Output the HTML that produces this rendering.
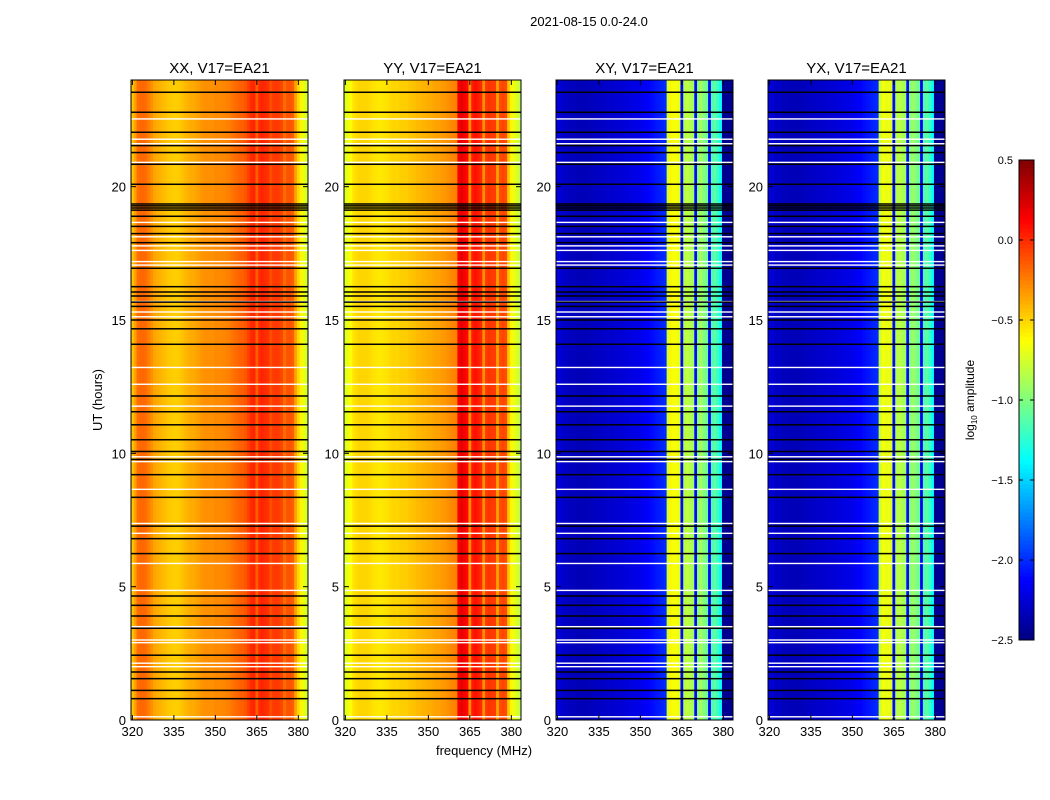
<!DOCTYPE html>
<html><head><meta charset="utf-8"><style>
html,body{margin:0;padding:0;background:#fff;}
svg{display:block;font-family:"Liberation Sans","DejaVu Sans",sans-serif;}
</style></head><body>
<svg id="fig" width="1050" height="800" viewBox="0 0 1050 800" xmlns="http://www.w3.org/2000/svg">
<rect width="1050" height="800" fill="#fff"/>
<text x="589" y="26" font-size="13" text-anchor="middle">2021-08-15 0.0-24.0</text>
<text x="484" y="755" font-size="13" text-anchor="middle">frequency (MHz)</text>
<text x="102" y="400" font-size="13" text-anchor="middle" transform="rotate(-90 102 400)">UT (hours)</text>
<g id="panels"></g>
<g id="cbar"></g>
</svg>
<script>
// ---- data ----
const freqs = []; for (let f = 320; f <= 383; f++) freqs.push(f); // channel centres (MHz)
const panelNames = ["XX, V17=EA21","YY, V17=EA21","XY, V17=EA21","YX, V17=EA21"];
const profXX = [-0.45,-0.35,-0.2,-0.18,-0.18,-0.2,-0.25,-0.3,-0.36,-0.38,-0.4,-0.42,-0.44,-0.46,-0.47,-0.48,-0.48,-0.47,-0.45,-0.42,-0.4,-0.38,-0.38,-0.36,-0.34,-0.32,-0.3,-0.3,-0.3,-0.3,-0.28,-0.28,-0.28,-0.27,-0.26,-0.25,-0.22,-0.2,-0.18,-0.16,-0.15,-0.12,-0.06,0.0,0.02,-0.15,0.0,0.02,0.0,-0.02,-0.1,-0.05,-0.04,-0.05,-0.08,-0.2,-0.12,-0.12,-0.15,-0.35,-0.5,-0.6,-0.68,-0.75];
const profYY = [-0.72,-0.68,-0.62,-0.55,-0.52,-0.5,-0.5,-0.5,-0.5,-0.52,-0.54,-0.55,-0.56,-0.56,-0.55,-0.54,-0.52,-0.5,-0.5,-0.5,-0.48,-0.48,-0.48,-0.46,-0.45,-0.44,-0.42,-0.42,-0.4,-0.4,-0.38,-0.38,-0.36,-0.35,-0.35,-0.33,-0.32,-0.3,-0.28,-0.27,-0.25,0.15,0.2,0.15,0.1,-0.3,0.05,0.08,0.05,0.0,-0.3,-0.05,-0.02,-0.05,-0.05,-0.35,-0.1,-0.08,-0.1,-0.45,-0.6,-0.68,-0.74,-0.8];
const profXY = [-2.2,-2.25,-2.28,-2.3,-2.3,-2.32,-2.32,-2.33,-2.33,-2.33,-2.33,-2.33,-2.32,-2.32,-2.3,-2.3,-2.3,-2.28,-2.28,-2.27,-2.27,-2.26,-2.25,-2.25,-2.24,-2.23,-2.22,-2.21,-2.2,-2.2,-2.18,-2.17,-2.15,-2.13,-2.1,-2.08,-2.06,-2.04,-2.02,-2.0,-0.75,-0.6,-0.65,-0.65,-0.7,-2.1,-0.85,-0.8,-0.85,-0.9,-2.1,-0.95,-0.9,-1.0,-1.05,-2.15,-1.15,-1.1,-1.2,-1.35,-2.45,-2.45,-2.45,-2.45];
const profYX = [-2.2,-2.25,-2.28,-2.3,-2.3,-2.32,-2.32,-2.33,-2.33,-2.33,-2.33,-2.33,-2.32,-2.32,-2.3,-2.3,-2.3,-2.28,-2.28,-2.27,-2.27,-2.26,-2.25,-2.25,-2.24,-2.23,-2.22,-2.21,-2.2,-2.2,-2.18,-2.17,-2.15,-2.13,-2.1,-2.08,-2.06,-2.04,-2.02,-2.0,-0.8,-0.65,-0.68,-0.68,-0.72,-2.1,-0.85,-0.82,-0.86,-0.9,-2.1,-0.97,-0.92,-1.0,-1.05,-2.15,-1.15,-1.1,-1.2,-1.35,-2.45,-2.45,-2.45,-2.45];
const blackFlags = [23.54,22.79,22.04,21.54,21.28,20.84,20.09,19.35,19.28,19.2,19.12,18.89,18.51,18.24,17.9,16.94,16.25,16.05,15.9,15.67,15.51,15.0,14.67,14.09,12.15,11.56,11.07,10.51,10.07,9.77,9.2,8.35,7.27,6.8,6.24,4.65,4.3,3.9,3.44,2.43,1.8,1.55,1.11,0.8];
const whiteFlags = [22.54,21.78,21.61,20.91,18.66,18.12,17.78,17.61,17.19,17.06,15.69,15.3,15.12,13.22,12.59,11.77,9.87,9.69,8.65,7.37,7.0,5.87,4.86,3.5,3.0,2.9,2.13,2.0,0.12];
const xTicks = [320,335,350,365,380];
const yTicks = [0,5,10,15,20];
const cbarTicks = [-2.5,-2.0,-1.5,-1.0,-0.5,0.0,0.5];
// ---- layout ----
const NS = "http://www.w3.org/2000/svg";
const panelLefts = [131,344,556,768];
const PW = 177, PT = 80, PB = 720;
const fMin = 319.5, fMax = 383.5, tMax = 24, vMin = -2.5, vMax = 0.5;
function el(tag, attrs, parent){const e=document.createElementNS(NS,tag);for(const k in attrs)e.setAttribute(k,attrs[k]);parent.appendChild(e);return e;}
function jet(v){let t=(v-vMin)/(vMax-vMin);t=Math.max(0,Math.min(1,t));
  const r=Math.max(0,Math.min(1,1.5-Math.abs(4*t-3))),g=Math.max(0,Math.min(1,1.5-Math.abs(4*t-2))),b=Math.max(0,Math.min(1,1.5-Math.abs(4*t-1)));
  return `rgb(${Math.round(r*255)},${Math.round(g*255)},${Math.round(b*255)})`;}
function fmt(v){return (v<0?"\u2212":"")+Math.abs(v).toFixed(1);}
const profiles=[profXX,profYY,profXY,profYX];
const gP=document.getElementById("panels");
profiles.forEach((prof,p)=>{
  const L=panelLefts[p];
  const xs=f=>L+(f-fMin)/(fMax-fMin)*PW;
  const ys=h=>PB-h/tMax*(PB-PT);
  const g=el("g",{},gP);
  
  
  freqs.forEach((f,i)=>{
    const c=el("rect",{x:xs(f-0.5),y:PT,width:xs(f+0.5)-xs(f-0.5)+0.4,height:PB-PT,fill:jet(prof[i])},g);
    
    
  });
  whiteFlags.forEach(h=>{const r=el("rect",{x:L,y:ys(h)-0.7,width:PW,height:1.4,fill:"#fff"},g);
    
    });
  blackFlags.forEach(h=>{const r=el("rect",{x:L,y:ys(h)-0.75,width:PW,height:1.5,fill:"#000"},g);
    
    });
  const fr=el("rect",{x:L,y:PT,width:PW,height:PB-PT,fill:"none",stroke:"#000","stroke-width":1},g);
  
  
  const t=el("text",{x:L+PW/2,y:73,"font-size":15,"text-anchor":"middle"},g);t.textContent=panelNames[p];
  
  
  xTicks.forEach(v=>{const x=xs(v);
    el("line",{x1:x,x2:x,y1:PB,y2:PB-5,stroke:"#000"},g);el("line",{x1:x,x2:x,y1:PT,y2:PT+5,stroke:"#000"},g);
    const tx=el("text",{x:x,y:PB+16,"font-size":13,"text-anchor":"middle"},g);tx.textContent=v;
    
    });
  yTicks.forEach(v=>{const y=ys(v);
    el("line",{x1:L,x2:L+5,y1:y,y2:y,stroke:"#000"},g);el("line",{x1:L+PW,x2:L+PW-5,y1:y,y2:y,stroke:"#000"},g);
    const ty=el("text",{x:L-5,y:y+5,"font-size":13,"text-anchor":"end"},g);ty.textContent=v;
    
    });
});
// colorbar
const gC=document.getElementById("cbar");
const CT=160,CB=640,CL=1019,CW=15;
const cy=v=>CB-(v-vMin)/(vMax-vMin)*(CB-CT);
for(let i=0;i<120;i++){const v0=vMin+i*(vMax-vMin)/120,v1=vMin+(i+1)*(vMax-vMin)/120;
  const r=el("rect",{x:CL,y:cy(v1),width:CW,height:cy(v0)-cy(v1)+0.5,fill:jet((v0+v1)/2)},gC);
  
  }
const cf=el("rect",{x:CL,y:CT,width:CW,height:CB-CT,fill:"none",stroke:"#000"},gC);


cbarTicks.forEach(v=>{const y=cy(v);
  el("line",{x1:CL,x2:CL+4,y1:y,y2:y,stroke:"#000"},gC);el("line",{x1:CL+CW,x2:CL+CW-4,y1:y,y2:y,stroke:"#000"},gC);
  const t=el("text",{x:1013,y:y+4,"font-size":11,"text-anchor":"end"},gC);t.textContent=fmt(v);
  
  });
const cl=el("text",{x:974,y:400,"font-size":12,"text-anchor":"middle",transform:"rotate(-90 974 400)"},gC);
cl.innerHTML='log<tspan font-size="8" dy="3">10</tspan><tspan dy="-3"> amplitude</tspan>';


</script>
</body></html>
